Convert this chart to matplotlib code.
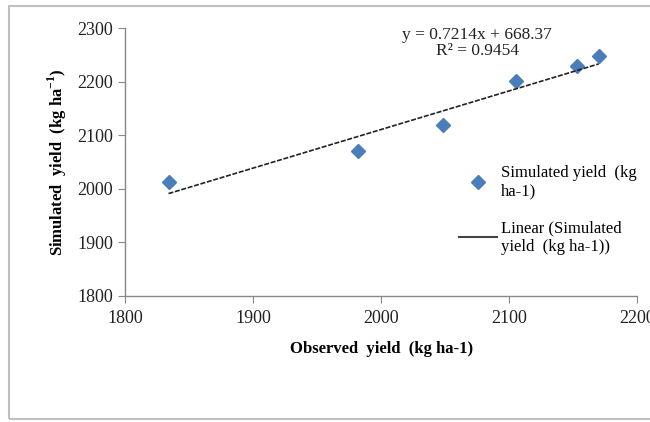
import numpy as np
import matplotlib
matplotlib.use("Agg")
import matplotlib.pyplot as plt
from matplotlib.lines import Line2D
from matplotlib.patches import Rectangle

# values
observed = [1834, 1982, 2048, 2105, 2153, 2170]
simulated = [2013, 2071, 2120, 2202, 2230, 2248]
slope = 0.7214
intercept = 668.37
r2 = 0.9454
xticks = [1800, 1900, 2000, 2100, 2200]
yticks = [1800, 1900, 2000, 2100, 2200, 2300]

plt.rcParams["font.family"] = "Liberation Serif"
plt.rcParams["mathtext.fontset"] = "custom"
plt.rcParams["mathtext.rm"] = "Liberation Serif"
plt.rcParams["mathtext.bf"] = "Liberation Serif:bold"

fig = plt.figure(figsize=(6.5, 4.22), dpi=100)
ax = fig.add_axes([0.1923, 0.2986, 0.788, 0.6339])

# outer chart frame
fig.patches.append(Rectangle((9 / 650, 3 / 422), 660 / 650, 413 / 422,
                             transform=fig.transFigure, fill=False,
                             edgecolor="#c0c0c0", linewidth=1.5))

ax.plot(observed, simulated, linestyle="none", marker="D", markersize=7.5,
        color="#4a7ebb")

xfit = np.array([min(observed), max(observed)])
ax.plot(xfit, slope * xfit + intercept, color="#222222", linewidth=1.2,
        linestyle=(0, (3, 1)))

ax.set_xlim(1800, 2200)
ax.set_ylim(1800, 2300)
ax.set_xticks(xticks)
ax.set_yticks(yticks)

for s in ["top", "right"]:
    ax.spines[s].set_visible(False)
for s in ["left", "bottom"]:
    ax.spines[s].set_color("#888888")
    ax.spines[s].set_linewidth(1)
ax.tick_params(direction="out", length=5, color="#888888", labelsize=13,
               labelcolor="#222222")
ax.tick_params(axis="x", pad=5)

ax.set_xlabel("Observed  yield  (kg ha-1)", fontsize=12, fontweight="bold",
              labelpad=10)
ax.set_ylabel("Simulated  yield  (kg ha$^{\\mathbf{-1}}$)", fontsize=12,
              fontweight="bold", labelpad=6)

ax.text(2075, 2272, f"y = {slope}x + {intercept}\nR² = {r2}", ha="center",
        va="center", fontsize=12.5, linespacing=1.0, color="#222222")

handles = [
    Line2D([], [], linestyle="none", marker="D", markersize=7.5, color="#4a7ebb"),
    Line2D([], [], color="#444444", linewidth=1.5),
]
labels = ["Simulated yield  (kg\nha-1)", "Linear (Simulated\nyield  (kg ha-1))"]
ax.legend(handles, labels, loc="upper left", bbox_to_anchor=(0.639, 0.515),
          frameon=False, fontsize=12, handlelength=2.3, handletextpad=0.2,
          labelspacing=1.25, borderaxespad=0)

fig.savefig("out.png", dpi=100)
